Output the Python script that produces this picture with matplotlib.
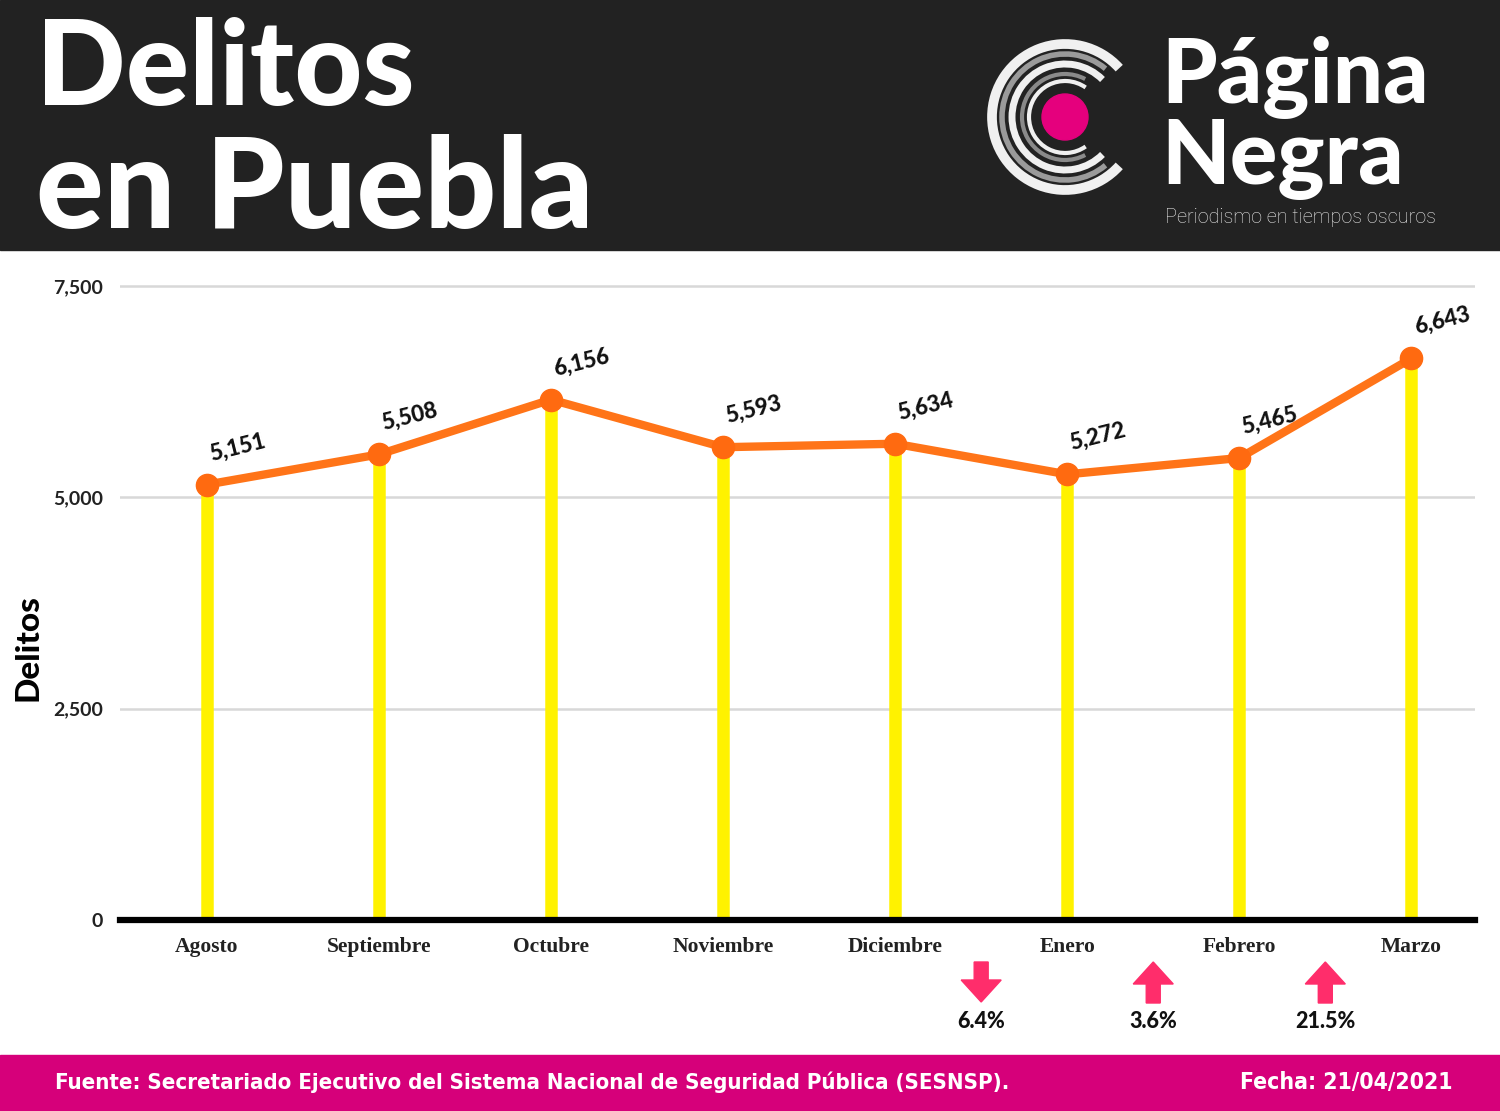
import matplotlib
matplotlib.use("Agg")
import matplotlib.pyplot as plt
from matplotlib.patches import Rectangle, Circle, Arc, Polygon

# datos
meses = ["Agosto", "Septiembre", "Octubre", "Noviembre", "Diciembre", "Enero", "Febrero", "Marzo"]
delitos = [5151, 5508, 6156, 5593, 5634, 5272, 5465, 6643]
yticks = [0, 2500, 5000, 7500]
cambios = ["6.4%", "3.6%", "21.5%"]
cambio_sube = [False, True, True]
cambio_pos = [4.5, 5.5, 6.5]  # entre meses

fuente = "Fuente: Secretariado Ejecutivo del Sistema Nacional de Seguridad Pública (SESNSP)."
fecha = "Fecha: 21/04/2021"

W, H = 1500, 1111
fig = plt.figure(figsize=(W / 100, H / 100), dpi=100)
fig.patch.set_facecolor("white")

# capa de fondo en pixeles
bg = fig.add_axes([0, 0, 1, 1])
bg.set_xlim(0, W)
bg.set_ylim(H, 0)
bg.axis("off")
bg.add_patch(Rectangle((0, 0), W, 250, color="#222222"))
bg.add_patch(Rectangle((0, 1055), W, 56, color="#D6007A"))

sans_heavy = ["Lato", "DejaVu Sans"]
bg.text(36, 105, "Delitos", color="white", fontsize=85, fontweight="black",
        family=sans_heavy, va="baseline", ha="left")
bg.text(36, 228, "en Puebla", color="white", fontsize=91, fontweight="black",
        family=sans_heavy, va="baseline", ha="left")

# logo
cx, cy = 1065, 117
for r, lw, col, t1, t2 in [(73, 7, "#f0f0f0", 42, 318), (63, 4, "#9a9a9a", 50, 310),
                           (53, 5, "#f0f0f0", 45, 315), (43, 3, "#8a8a8a", 62, 298),
                           (36, 3, "#f0f0f0", 55, 305)]:
    bg.add_patch(Arc((cx, cy), 2 * r, 2 * r, theta1=t1, theta2=t2, color=col, lw=lw))
bg.add_patch(Circle((cx, cy), 23, color="#E5007D"))
bg.text(1161, 103, "Página", color="white", fontsize=64, fontweight="black",
        family=sans_heavy, va="baseline", ha="left")
bg.text(1161, 184, "Negra", color="white", fontsize=64, fontweight="black",
        family=sans_heavy, va="baseline", ha="left")
bg.text(1165, 223, "Periodismo en tiempos oscuros", color="#e8e8e8", fontsize=14.3,
        fontweight="light", family=["Roboto", "DejaVu Sans"], va="baseline", ha="left")

bg.text(55, 1089, fuente, color="white", fontsize=15.9, fontweight="bold",
        family=["DejaVu Sans"], fontstretch="condensed", va="baseline", ha="left")
bg.text(1452, 1089, fecha, color="white", fontsize=16.5, fontweight="bold",
        family=["DejaVu Sans"], fontstretch="condensed", va="baseline", ha="right")

# grafica
left, right, bottom, top = 120, 1475, 920, 270
ax = fig.add_axes([left / W, 1 - bottom / H, (right - left) / W, (bottom - top) / H])
ax.set_facecolor("none")
x = list(range(len(meses)))
ax.set_xlim(-0.505, 7.37)
ax.set_ylim(0, 7500 * (bottom - top) / (bottom - 286))

for t in yticks[1:]:
    ax.axhline(t, color="#d8d8d8", lw=1.8, zorder=0)
ax.axhline(0, color="black", lw=4.5, zorder=3, clip_on=False)

ax.vlines(x, 0, delitos, color="#FFF200", lw=9, zorder=1)
ax.plot(x, delitos, color="#FF7418", lw=6, zorder=4, solid_capstyle="round")
ax.plot(x, delitos, "o", color="#FF6A10", ms=16, zorder=5)

for xi, v in zip(x, delitos):
    ax.annotate(f"{v:,}", (xi, v), xytext=(22, 27), textcoords="offset points",
                ha="center", va="center", rotation=14, fontsize=16,
                fontweight="black", color="#111111", family=["Lato", "DejaVu Sans"])

ax.set_xticks(x)
ax.set_xticklabels(meses, family=["Liberation Serif", "DejaVu Serif"], fontweight="bold",
                   fontsize=15.5, color="#222222")
ax.tick_params(axis="x", length=0, pad=12)
ax.set_yticks(yticks)
ax.set_yticklabels([f"{t:,}" for t in yticks], fontsize=14, color="#222222",
                   family=["Lato", "DejaVu Sans"], fontweight="bold")
ax.tick_params(axis="y", length=0, pad=12)
for s in ax.spines.values():
    s.set_visible(False)

fig.text(28 / W, 1 - 648 / H, "Delitos", rotation=90, fontsize=24, fontweight="black",
         family=["Lato", "DejaVu Sans"], ha="center", va="center", color="black")

# flechas de cambio (x desde la escala del eje, y en pixeles del fondo)
fig.canvas.draw()
for xp, txt, sube in zip(cambio_pos, cambios, cambio_sube):
    px = ax.transData.transform((xp, 0))[0]
    px = bg.transData.inverted().transform((px, 0))[0]
    if sube:
        pts = [(px, 962), (px + 20, 984), (px + 7, 984), (px + 7, 1003),
               (px - 7, 1003), (px - 7, 984), (px - 20, 984)]
    else:
        pts = [(px, 1002), (px + 20, 980), (px + 7, 980), (px + 7, 962),
               (px - 7, 962), (px - 7, 980), (px - 20, 980)]
    bg.add_patch(Polygon(pts, closed=True, color="#FF2D6B"))
    bg.text(px, 1021, txt, ha="center", va="center", fontsize=15.5,
            fontweight="black", family=["Lato", "DejaVu Sans"], color="#111111")

fig.savefig("out.png", dpi=100)
